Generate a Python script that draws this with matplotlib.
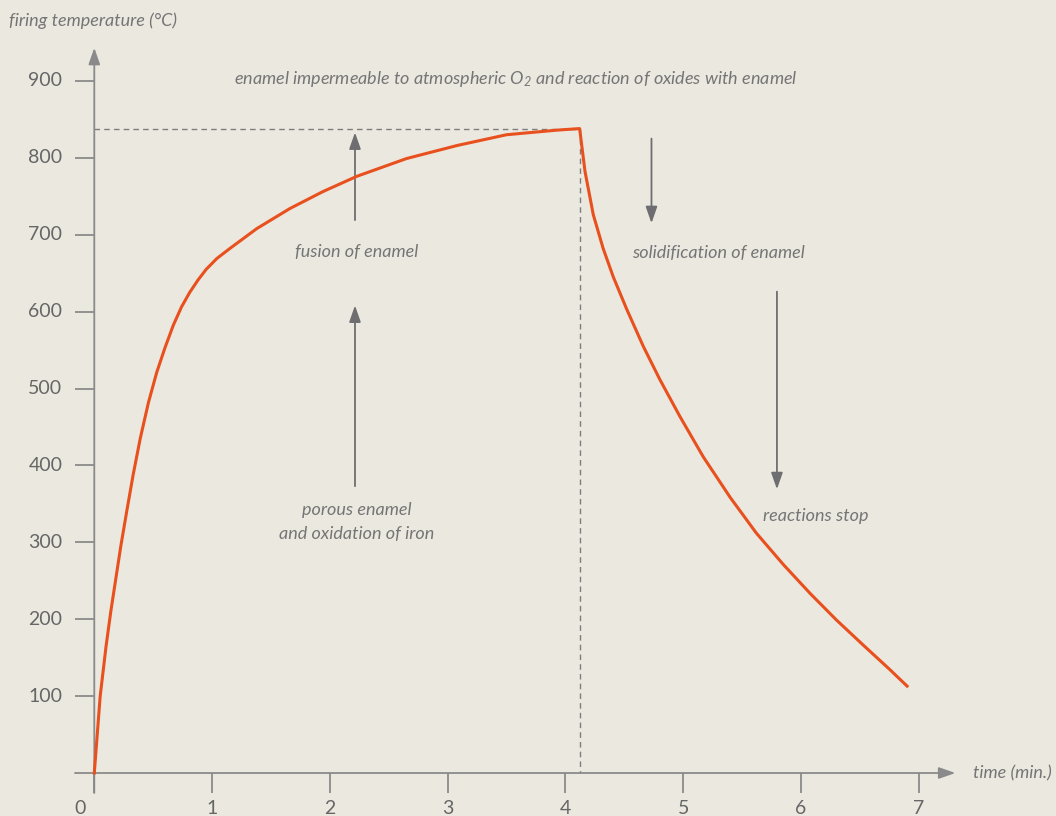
import matplotlib
matplotlib.use("Agg")
import matplotlib.pyplot as plt

# firing curve: time (min.) and temperature (°C)
heat_t = [0, 0.05, 0.10, 0.14, 0.18, 0.225, 0.275, 0.33, 0.39, 0.46, 0.53, 0.60, 0.67,
          0.74, 0.81, 0.88, 0.95, 1.04, 1.15, 1.38, 1.66, 1.94, 2.23, 2.65, 3.08, 3.50,
          3.93, 4.12]
heat_T = [0, 100, 165, 210, 250, 295, 340, 388, 435, 482, 521, 553, 582,
          606, 625, 641, 655, 669, 682, 708, 734, 756, 776, 799, 816, 830,
          836, 838]
cool_t = [4.12, 4.166, 4.236, 4.32, 4.406, 4.52, 4.66, 4.80, 4.97, 5.17, 5.40, 5.62,
          5.85, 6.08, 6.30, 6.53, 6.75, 6.90]
cool_T = [838, 782, 726, 682, 645, 603, 555, 512, 464, 411, 358, 312,
          271, 233, 199, 166, 135, 113]
peak_t, peak_T = 4.12, 838

x_ticks = [0, 1, 2, 3, 4, 5, 6, 7]
y_ticks = [100, 200, 300, 400, 500, 600, 700, 800, 900]

bg = "#EBE8E0"
axis_c = "#8a8a8a"
text_c = "#757575"
tick_c = "#666666"
arrow_c = "#6e6e70"
curve_c = "#E8501E"

plt.rcParams['font.family'] = ['Lato', 'DejaVu Sans']
plt.rcParams['mathtext.fontset'] = 'custom'
plt.rcParams['mathtext.rm'] = 'Lato:italic'
plt.rcParams['mathtext.it'] = 'Lato:italic'

fig = plt.figure(figsize=(10.56, 8.16), dpi=100, facecolor=bg)
ax = fig.add_axes([0, 0, 1, 1])
ax.set_facecolor(bg)
ax.set_xlim(-0.8005, 8.164)
ax.set_ylim(-55.9, 1005.2)
ax.axis('off')


def arrow(x0, y0, x1, y1, color, lw):
    ax.annotate('', xy=(x1, y1), xytext=(x0, y0),
                arrowprops=dict(arrowstyle='-|>,head_length=0.4,head_width=0.14',
                                color=color, lw=lw, mutation_scale=25,
                                shrinkA=0, shrinkB=0))


# axes with arrow heads
arrow(-0.164, 0, 7.31, 0, axis_c, 1.3)
arrow(0, -26, 0, 943, axis_c, 1.3)

for t in x_ticks:
    ax.plot([t, t], [0, -26], color=axis_c, lw=1.3, solid_capstyle='butt')
    lx = t - 0.12 if t == 0 else t
    ax.text(lx, -46, str(t), ha='center', va='center', fontsize=14, color=tick_c)
for T in y_ticks:
    ax.plot([-0.164, 0], [T, T], color=axis_c, lw=1.3, solid_capstyle='butt')
    ax.text(-0.27, T, str(T), ha='right', va='center', fontsize=14, color=tick_c)

# dashed guides to the peak
ax.plot([0, peak_t], [peak_T, peak_T], color='#7d7d7d', lw=1, ls=(0, (4, 3)))
ax.plot([peak_t, peak_t], [peak_T, 0], color='#7d7d7d', lw=1, ls=(0, (4, 3)))

# firing curve
ax.plot(heat_t + cool_t[1:], heat_T + cool_T[1:], color=curve_c, lw=2.2,
        solid_joinstyle='round', zorder=5)

# annotation arrows
arrow(2.213, 719, 2.213, 833, arrow_c, 1.3)
arrow(2.213, 373, 2.213, 608, arrow_c, 1.3)
arrow(4.73, 825, 4.73, 715, arrow_c, 1.3)
arrow(5.795, 626, 5.795, 369, arrow_c, 1.3)

it = dict(style='italic', fontsize=13, color=text_c)
ax.text(-0.72, 978, "firing temperature (°C)", ha='left', va='center', **it)
ax.text(7.46, 0, "time (min.)", ha='left', va='center', **it)
ax.text(3.58, 902, "enamel impermeable to atmospheric O$_2$ and reaction of oxides with enamel",
        ha='center', va='center', **it)
ax.text(2.23, 677, "fusion of enamel", ha='center', va='center', **it)
ax.text(2.23, 326, "porous enamel\nand oxidation of iron", ha='center', va='center',
        linespacing=1.6, **it)
ax.text(5.295, 676, "solidification of enamel", ha='center', va='center', **it)
ax.text(6.126, 334, "reactions stop", ha='center', va='center', **it)

fig.savefig("out.png", dpi=100, facecolor=bg)
